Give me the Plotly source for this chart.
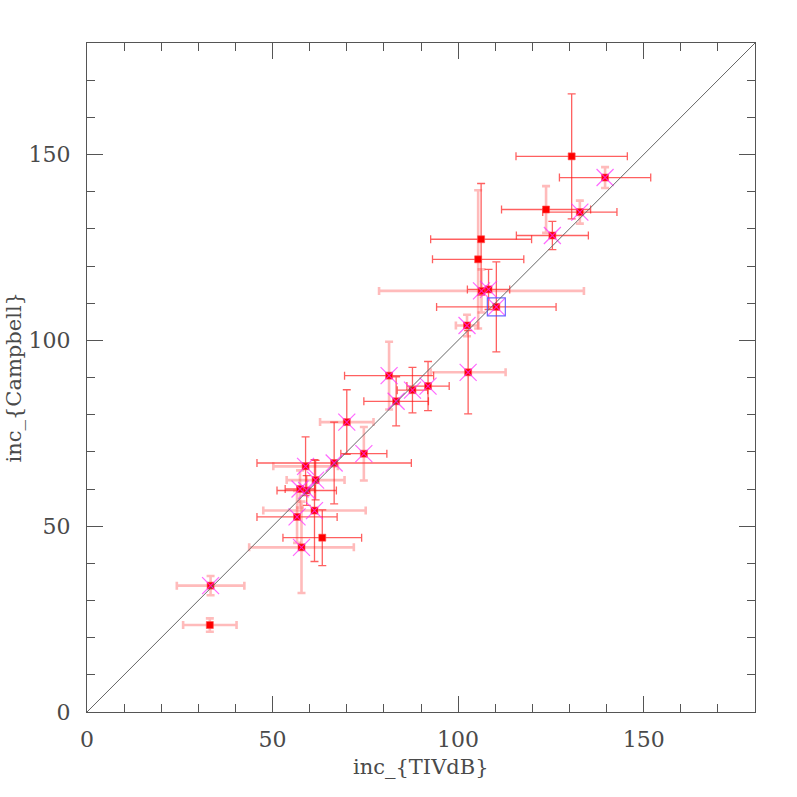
import plotly.graph_objects as go

# ---------------- data ----------------
inc_tivdb = [33.3, 33.1, 57.8, 63.4, 61.3, 56.6, 57.4, 59.2, 58.9, 61.6,
             66.6, 70.0, 74.6, 83.3, 81.4, 87.7, 91.9, 102.7, 102.4, 110.3,
             106.3, 108.2, 105.4, 106.2, 125.4, 123.7, 132.8, 139.6, 130.6]
inc_campbell = [34.0, 23.4, 44.3, 46.9, 54.2, 52.5, 60.0, 59.6, 66.1, 62.4,
                67.0, 78.0, 69.5, 83.6, 90.5, 86.6, 87.7, 91.4, 104.0, 109.0,
                113.3, 113.7, 121.8, 127.2, 128.2, 135.2, 134.5, 143.8, 149.5]
err_tivdb = [9.1, 7.2, 14.1, 10.6, 13.8, 10.8, 4.0, 8.0, 8.7, 7.8,
             20.8, 7.2, 6.2, 8.7, 12.0, 4.1, 5.7, 10.1, 3.0, 16.1,
             27.6, 5.7, 12.3, 13.6, 9.7, 12.0, 10.0, 12.3, 15.0]
err_campbell = [2.6, 1.8, 12.3, 7.5, 13.7, 7.0, 5.0, 4.0, 7.9, 5.3,
                11.0, 8.7, 7.2, 6.6, 9.1, 6.1, 6.6, 11.2, 2.9, 12.1,
                5.8, 5.4, 18.6, 15.0, 3.8, 6.3, 3.1, 2.8, 16.8]
# error source per point: "A" or "B"
err_tivdb_kind = ["B", "B", "B", "A", "B", "A", "A", "A", "B", "B",
                  "A", "B", "A", "A", "A", "A", "A", "B", "B", "A",
                  "B", "A", "A", "A", "A", "A", "A", "A", "A"]
err_campbell_kind = ["B", "B", "B", "A", "A", "B", "B", "A", "A", "A",
                     "A", "A", "B", "A", "B", "A", "A", "A", "B", "A",
                     "B", "A", "B", "A", "A", "B", "B", "B", "A"]
flagged = [1, 0, 1, 0, 1, 1, 1, 1, 1, 1,
           1, 1, 1, 1, 1, 1, 1, 1, 1, 1,
           1, 1, 0, 0, 1, 0, 1, 1, 0]
highlighted = [0] * 19 + [1] + [0] * 9

axis_range = [0, 180]
major_ticks = [0, 50, 100, 150]
x_title = "inc_{TIVdB}"
y_title = "inc_{Campbell}"

# ---------------- styles ----------------
FONT = "DejaVu Serif"
AXC = "#555555"
TXC = "#4a4a4a"
kind_style = {
    "A": dict(color="rgba(255,20,20,0.68)", thickness=1.3),
    "B": dict(color="rgba(255,60,60,0.35)", thickness=2.6),
}
CAP = 4

fig = go.Figure()

# error bars (x)
for k, st in kind_style.items():
    idx = [i for i, kk in enumerate(err_tivdb_kind) if kk == k]
    fig.add_trace(go.Scatter(
        x=[inc_tivdb[i] for i in idx], y=[inc_campbell[i] for i in idx],
        mode="markers", marker=dict(size=1, color="rgba(0,0,0,0)"),
        error_x=dict(type="data", array=[err_tivdb[i] for i in idx],
                     color=st["color"], thickness=st["thickness"], width=CAP),
        hoverinfo="skip", showlegend=False))
# error bars (y)
for k, st in kind_style.items():
    idx = [i for i, kk in enumerate(err_campbell_kind) if kk == k]
    fig.add_trace(go.Scatter(
        x=[inc_tivdb[i] for i in idx], y=[inc_campbell[i] for i in idx],
        mode="markers", marker=dict(size=1, color="rgba(0,0,0,0)"),
        error_y=dict(type="data", array=[err_campbell[i] for i in idx],
                     color=st["color"], thickness=st["thickness"], width=CAP),
        hoverinfo="skip", showlegend=False))

# red squares
fig.add_trace(go.Scatter(
    x=inc_tivdb, y=inc_campbell, mode="markers",
    marker=dict(symbol="square", size=7, color="#ff0000",
                line=dict(color="rgba(255,80,80,0.6)", width=1)),
    showlegend=False))

# magenta crosses on flagged points
fidx = [i for i, f in enumerate(flagged) if f]
fig.add_trace(go.Scatter(
    x=[inc_tivdb[i] for i in fidx], y=[inc_campbell[i] for i in fidx],
    mode="markers",
    marker=dict(symbol="x-thin", size=17, color="rgba(255,0,255,0.7)",
                line=dict(color="rgba(255,40,255,0.7)", width=1.2)),
    showlegend=False))

# blue open square on highlighted point
hidx = [i for i, h in enumerate(highlighted) if h]
fig.add_trace(go.Scatter(
    x=[inc_tivdb[i] for i in hidx], y=[inc_campbell[i] for i in hidx],
    mode="markers",
    marker=dict(symbol="square-open", size=18, color="rgba(80,80,255,0.85)",
                line=dict(width=1.2)),
    showlegend=False))

# 1:1 line
fig.add_shape(type="line", xref="x", yref="y",
              x0=axis_range[0], y0=axis_range[0], x1=axis_range[1], y1=axis_range[1],
              line=dict(color="#666666", width=1))

axis_common = dict(
    range=axis_range, tickmode="array", tickvals=major_ticks,
    ticktext=[str(t) for t in major_ticks],
    ticks="inside", ticklen=16, tickwidth=1, tickcolor=AXC,
    showline=True, linecolor=AXC, linewidth=1, mirror="ticks",
    showgrid=False, zeroline=False,
    minor=dict(dtick=10, ticks="inside", ticklen=8, tickcolor=AXC, tickwidth=1, showgrid=False),
    tickfont=dict(family=FONT, size=22, color=TXC),
)

fig.update_layout(
    width=797, height=797,
    margin=dict(l=87, r=42, t=43, b=85),
    paper_bgcolor="white", plot_bgcolor="white",
    xaxis=dict(**axis_common, ticklabelstandoff=8),
    yaxis=dict(**axis_common, ticklabelstandoff=11),
    showlegend=False,
    annotations=[
        dict(text=x_title, xref="paper", yref="paper", x=0.5, y=0,
             yshift=-55, xanchor="center", yanchor="middle", showarrow=False,
             font=dict(family=FONT, size=21, color=TXC)),
        dict(text=y_title, xref="paper", yref="paper", x=0, y=0.5,
             xshift=-74, xanchor="center", yanchor="middle", showarrow=False,
             textangle=-90, font=dict(family=FONT, size=21, color=TXC)),
    ],
)

# remove the browser's default 8px body margin so the figure sits at the page corner
fig.write_html("out.html",
               config={"displayModeBar": False},
               post_script="document.body.style.margin='0';document.body.style.overflow='hidden';")
